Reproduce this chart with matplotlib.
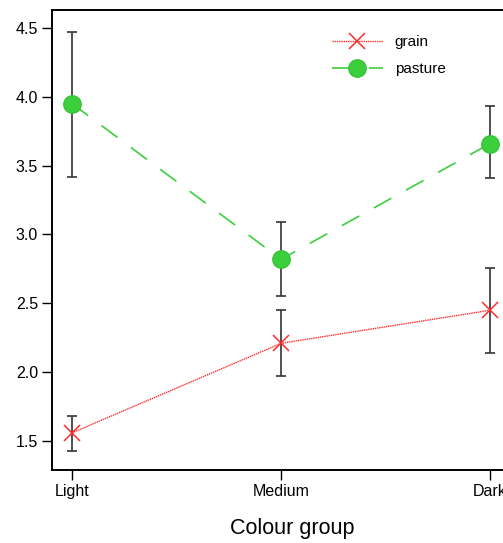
import numpy as np
import matplotlib.pyplot as plt

plt.rcParams['font.family'] = ['Liberation Sans', 'DejaVu Sans']

groups = ['Light', 'Medium', 'Dark']

grain_mean = [1.56, 2.21, 2.45]
grain_low = [1.43, 1.97, 2.14]
grain_high = [1.68, 2.45, 2.76]

pasture_mean = [3.95, 2.82, 3.66]
pasture_low = [3.42, 2.55, 3.41]
pasture_high = [4.47, 3.09, 3.93]

x = np.arange(len(groups))

fig = plt.figure(figsize=(5.03, 5.43), dpi=100)
# axes run past the right edge of the figure, so the last label gets cut
ax = fig.add_axes([0.1034, 0.1344, 0.954, 0.8472])

err_kw = dict(fmt='none', ecolor='#333333', elinewidth=1.2, capsize=3.5, capthick=1.2)

grain_err = [np.subtract(grain_mean, grain_low), np.subtract(grain_high, grain_mean)]
pasture_err = [np.subtract(pasture_mean, pasture_low), np.subtract(pasture_high, pasture_mean)]
ax.errorbar(x, grain_mean, yerr=grain_err, zorder=2, **err_kw)
ax.errorbar(x, pasture_mean, yerr=pasture_err, zorder=2, **err_kw)

ax.plot(x, grain_mean, color='#ff2a2a', ls=(0, (1, 0.6)), lw=1.0,
        marker='x', ms=12, mew=1.1, label='grain', zorder=3)
ax.plot(x, pasture_mean, color='#3ccf3c', ls=(0, (12, 10)), lw=1.2,
        marker='o', ms=12.5, mec='#36c236', label='pasture', zorder=3)

ax.set_xlim(-0.096, 2.2)
ax.set_ylim(1.29, 4.63)
ax.set_yticks([1.5, 2.0, 2.5, 3.0, 3.5, 4.0, 4.5])
ax.set_xticks(x, labels=groups)

ax.spines['right'].set_visible(False)
for s in ['left', 'bottom', 'top']:
    ax.spines[s].set_linewidth(1.4)
ax.tick_params(axis='both', direction='out', length=7, width=1.0, labelsize=11.5)
ax.tick_params(axis='y', pad=3)
ax.tick_params(axis='x', pad=3)

ax.set_xlabel('Colour group', fontsize=15.5, labelpad=14)

ax.legend(loc='upper left', bbox_to_anchor=(0.555, 0.975), frameon=False,
          fontsize=11, handlelength=3.3, handletextpad=0.8, labelspacing=0.85)

fig.savefig('out.png', dpi=100)
